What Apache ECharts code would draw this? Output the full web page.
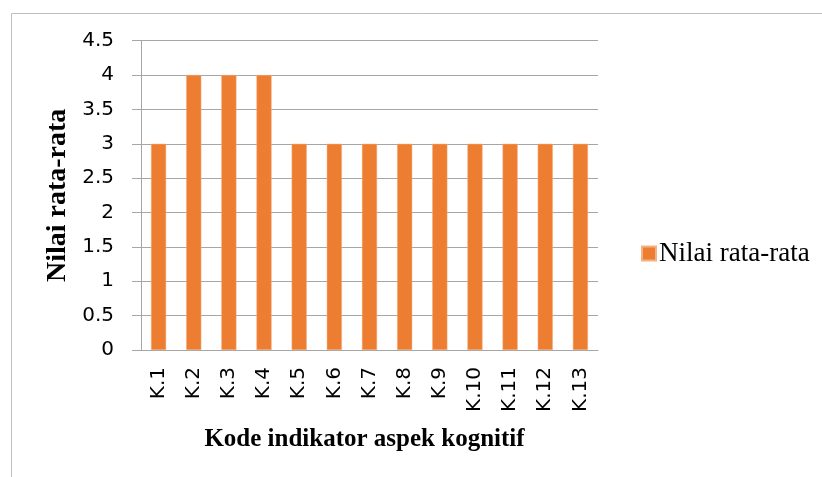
<!DOCTYPE html>
<html>
<head>
<meta charset="utf-8">
<script src="https://cdn.jsdelivr.net/npm/echarts@6/dist/echarts.min.js"></script>
<style>
  html, body { margin: 0; padding: 0; background: #fff; }
  #chart { width: 822px; height: 477px; }
</style>
</head>
<body>
<div id="chart"></div>
<script>
// Bar chart: average score per cognitive indicator code.
const categories = ['K.1', 'K.2', 'K.3', 'K.4', 'K.5', 'K.6', 'K.7', 'K.8', 'K.9', 'K.10', 'K.11', 'K.12', 'K.13'];
const values = [3, 4, 4, 4, 3, 3, 3, 3, 3, 3, 3, 3, 3];
const seriesName = 'Nilai rata-rata';
const xTitle = 'Kode indikator aspek kognitif';
const yTitle = 'Nilai rata-rata';

const SANS = "'DejaVu Sans', 'Liberation Sans', sans-serif";
const SERIF = "'Liberation Serif', 'DejaVu Serif', serif";
const GRID_LINE = '#a6a6a6';

const chart = echarts.init(document.getElementById('chart'));
chart.setOption({
  animation: false,
  backgroundColor: '#fff',
  graphic: [{
    type: 'rect', left: 9, top: 11,
    shape: { width: 830, height: 480 },
    style: { fill: 'none', stroke: '#bfbfbf', lineWidth: 1 },
    silent: true,
  }],
  grid: { left: 141, right: 224, top: 40.7, bottom: 127 },
  legend: {
    left: 636, top: 235, orient: 'vertical',
    icon: 'rect', itemWidth: 14, itemHeight: 14, itemGap: 4,
    textStyle: { fontFamily: SERIF, fontSize: 27, color: '#000', padding: [0, 0, 0, -2] },
    data: [seriesName],
  },
  xAxis: {
    type: 'category', data: categories,
    name: xTitle, nameLocation: 'middle', nameGap: 77,
    nameTextStyle: { fontFamily: SERIF, fontSize: 25, fontWeight: 'bold', color: '#000', padding: [0, 10, 0, 0] },
    axisLine: { lineStyle: { color: GRID_LINE } },
    axisTick: { show: false },
    axisLabel: { rotate: 90, margin: 17, fontFamily: SANS, fontSize: 20, color: '#000' },
  },
  yAxis: {
    type: 'value', min: 0, max: 4.5, interval: 0.5,
    name: yTitle, nameLocation: 'middle', nameGap: 68,
    nameTextStyle: { fontFamily: SERIF, fontSize: 28, fontWeight: 'bold', color: '#000' },
    axisLine: { show: true, lineStyle: { color: GRID_LINE } },
    axisTick: { show: true, length: 9, lineStyle: { color: GRID_LINE } },
    axisLabel: { margin: 27, fontFamily: SANS, fontSize: 20, color: '#000' },
    splitLine: { lineStyle: { color: GRID_LINE } },
  },
  series: [{
    name: seriesName, type: 'bar', data: values,
    barWidth: '43%',
    itemStyle: { color: '#ed7d31', borderColor: '#f4b183', borderWidth: 0.5 },
  }],
});
</script>
</body>
</html>
